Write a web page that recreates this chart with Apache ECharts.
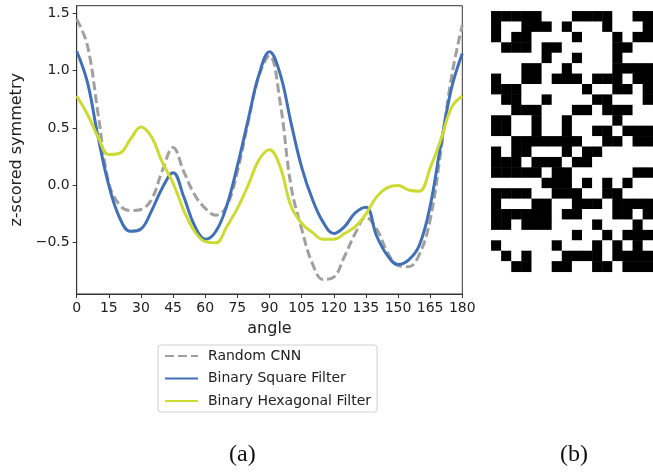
<!DOCTYPE html>
<html>
<head>
<meta charset="utf-8">
<script src="https://cdn.jsdelivr.net/npm/echarts@6/dist/echarts.min.js"></script>
<style>
  html, body { margin: 0; padding: 0; background: #fff; }
  #chart { width: 653px; height: 473px; }
</style>
</head>
<body>
<div id="chart"></div>
<script>
// angles (degrees) at which the curves were read
const angles = [0, 5, 10, 15, 20, 25, 30, 35, 40, 45, 50, 55, 60, 65, 70, 75, 80, 85, 90,
    95, 100, 105, 110, 115, 120, 125, 130, 135, 140, 145, 150, 155, 160, 165, 170, 175, 180];

// z-scored symmetry per model
const randomCnn = [1.45, 1.22, 0.62, 0.02, -0.17, -0.22, -0.21, -0.12, 0.13, 0.33, 0.12, -0.08, -0.20,
    -0.26, -0.18, 0.12, 0.55, 0.95, 1.13, 0.72, 0.00, -0.38, -0.68, -0.82, -0.80, -0.62, -0.42,
    -0.28, -0.38, -0.58, -0.70, -0.71, -0.60, -0.30, 0.30, 0.95, 1.40];
const squareFilter = [1.17, 0.90, 0.42, 0.00, -0.28, -0.40, -0.38, -0.22, -0.02, 0.11, -0.10, -0.35,
    -0.47, -0.40, -0.18, 0.17, 0.57, 0.96, 1.166, 0.97, 0.55, 0.16, -0.12, -0.32, -0.42, -0.36,
    -0.24, -0.19, -0.44, -0.61, -0.69, -0.65, -0.52, -0.18, 0.36, 0.85, 1.15];
const hexFilter = [0.78, 0.62, 0.42, 0.27, 0.28, 0.40, 0.51, 0.42, 0.20, 0.02, -0.22, -0.40, -0.49,
    -0.50, -0.36, -0.20, 0.00, 0.22, 0.31, 0.16, -0.18, -0.33, -0.41, -0.47, -0.47, -0.42, -0.36,
    -0.25, -0.10, -0.02, 0.00, -0.04, -0.05, 0.15, 0.40, 0.68, 0.78];

const xTicks = [0, 15, 30, 45, 60, 75, 90, 105, 120, 135, 150, 165, 180];
const yTicks = [-0.5, 0, 0.5, 1, 1.5];

// binary filter image (b), 1 = black, row 0 on top
const filterRows = [
    '1111100011110011',
    '1001110100010001',
    '1011000010001011',
    '0111011000001100',
    '0000010010001000',
    '0001100100001111',
    '1001101110111011',
    '1110000001001101',
    '0110010000110001',
    '0011100011011100',
    '1100100100001000',
    '1100100100110111',
    '0011111110011011',
    '1011000101100000',
    '1110111011000000',
    '1111101100000011',
    '0000011101010100',
    '1111001110011000',
    '1000110011101111',
    '1111110110001101',
    '1101110000100010',
    '0000000010010111',
    '1000001000101010',
    '0101000111101111',
    '0011001100110111'
];

function initChart() {
    const myChart = echarts.init(document.getElementById('chart'));

    const pairs = arr => angles.map((a, i) => [a, arr[i]]);

    // heatmap cells [col, row, value]
    const cells = [];
    filterRows.forEach((row, r) => {
        row.split('').forEach((c, k) => cells.push([k, r, Number(c)]));
    });
    const nCols = filterRows[0].length;
    const cellSize = 10.42;

    const font = 'DejaVu Sans';

    const option = {
        backgroundColor: '#ffffff',
        animation: false,
        textStyle: { fontFamily: font },
        grid: [
            { // line plot (a)
                left: 76.7, top: 5.7, width: 385.6, height: 288.3,
                show: true, borderColor: '#333', borderWidth: 1
            },
            { // filter image (b)
                left: 491.3, top: 11.3,
                width: cellSize * nCols, height: cellSize * filterRows.length
            }
        ],
        legend: {
            orient: 'vertical',
            left: 158, top: 345,
            padding: [4, 6, 4, 6],
            itemWidth: 33, itemHeight: 14, itemGap: 8.5,
            borderColor: '#d0d0d0', borderWidth: 1, borderRadius: 3,
            backgroundColor: '#fff',
            itemStyle: { opacity: 0 },   // line only, no marker
            textStyle: { fontFamily: font, fontSize: 14, color: '#222', padding: [0, 0, 0, 5] },
            data: ['Random CNN', 'Binary Square Filter', 'Binary Hexagonal Filter']
        },
        xAxis: [
            {
                type: 'value', gridIndex: 0,
                min: 0, max: 180, interval: 15,
                name: 'angle', nameLocation: 'middle', nameGap: 27,
                nameTextStyle: { fontSize: 16, color: '#222' },
                axisLine: { onZero: false, lineStyle: { color: '#333', width: 1 } },
                axisTick: { show: true, length: 4, lineStyle: { color: '#333' } },
                axisLabel: { fontSize: 14, color: '#222', margin: 7 },
                splitLine: { show: false }
            },
            {
                type: 'category', gridIndex: 1,
                data: Array.from({ length: nCols }, (_, i) => i),
                show: false
            }
        ],
        yAxis: [
            {
                type: 'value', gridIndex: 0,
                min: -0.947, max: 1.567,
                name: 'z-scored symmetry', nameLocation: 'middle', nameGap: 46,
                nameTextStyle: { fontSize: 16, color: '#222' },
                axisLine: { show: true, onZero: false, lineStyle: { color: '#333', width: 1 } },
                axisTick: { show: true, length: 4, lineStyle: { color: '#333' }, customValues: yTicks },
                axisLabel: {
                    fontSize: 14, color: '#222', margin: 7,
                    customValues: yTicks,
                    formatter: v => (v < 0 ? '\u2212' : '') + Math.abs(v).toFixed(1)
                },
                splitLine: { show: false }
            },
            {
                type: 'category', gridIndex: 1, inverse: true,
                data: filterRows.map((_, i) => i),
                show: false
            }
        ],
        visualMap: {
            type: 'piecewise', show: false, seriesIndex: 3,
            pieces: [
                { value: 0, color: '#ffffff' },
                { value: 1, color: '#000000' }
            ]
        },
        series: [
            {
                name: 'Random CNN', type: 'line', xAxisIndex: 0, yAxisIndex: 0,
                data: pairs(randomCnn), smooth: 0.4, symbol: 'none',
                lineStyle: { color: '#a0a0a0', width: 3, type: [9, 4] },
                itemStyle: { color: '#a0a0a0' }
            },
            {
                name: 'Binary Square Filter', type: 'line', xAxisIndex: 0, yAxisIndex: 0,
                data: pairs(squareFilter), smooth: 0.4, symbol: 'none',
                lineStyle: { color: '#4270b6', width: 3 },
                itemStyle: { color: '#4270b6' }
            },
            {
                name: 'Binary Hexagonal Filter', type: 'line', xAxisIndex: 0, yAxisIndex: 0,
                data: pairs(hexFilter), smooth: 0.4, symbol: 'none',
                lineStyle: { color: '#cbdb34', width: 3 },
                itemStyle: { color: '#cbdb34' }
            },
            {
                type: 'heatmap', xAxisIndex: 1, yAxisIndex: 1,
                data: cells,
                itemStyle: { borderWidth: 0 },
                emphasis: { disabled: true }
            }
        ],
        graphic: [
            { type: 'text', left: 229, top: 443, style: { text: '(a)', font: '24px "Liberation Serif"', fill: '#111' } },
            { type: 'text', left: 560, top: 443, style: { text: '(b)', font: '24px "Liberation Serif"', fill: '#111' } }
        ]
    };

    myChart.setOption(option);
    window.addEventListener('resize', () => myChart.resize());
}

window.onload = initChart;
</script>
</body>
</html>
